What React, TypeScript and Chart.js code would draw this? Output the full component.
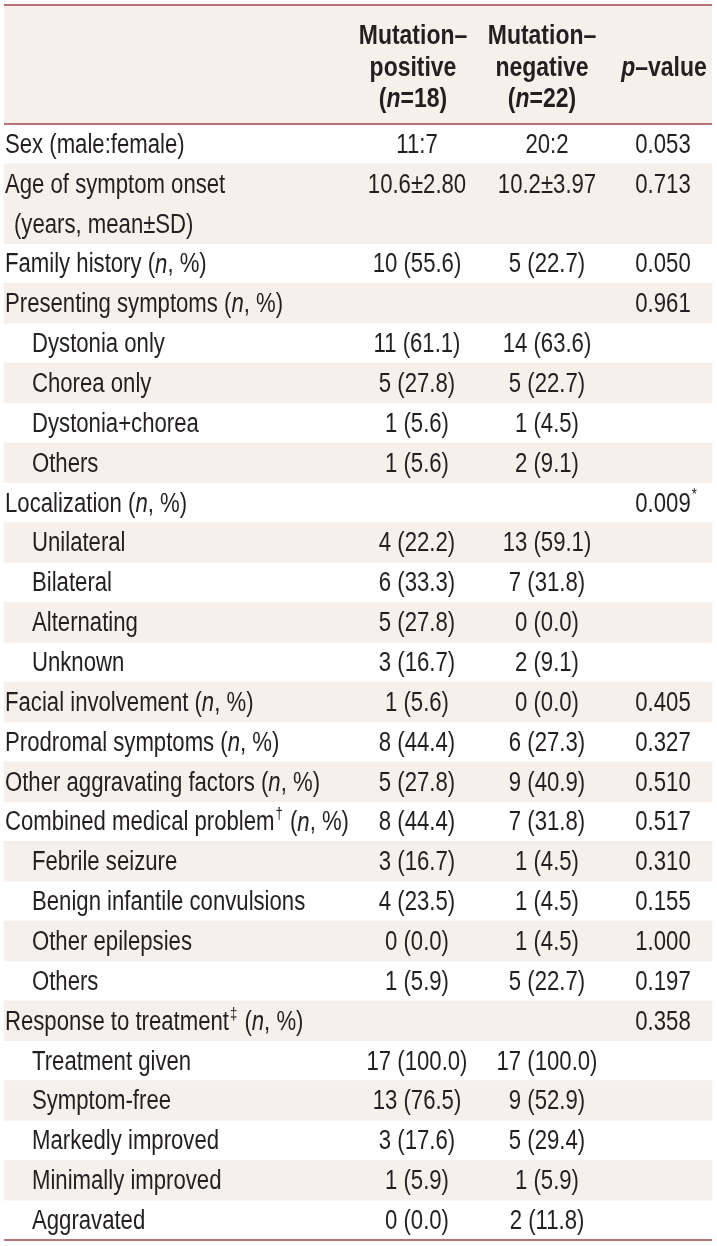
import React, { useEffect, useRef } from "react";
import { Chart, registerables } from "chart.js";

Chart.register(...registerables);

// ---------- data ----------
const headerPositive = ["Mutation–", "positive", "(_n_=18)"];
const headerNegative = ["Mutation–", "negative", "(_n_=22)"];
const headerPValue = ["", "_p_–value", ""];

const rowLabels = [
  "Sex (male:female)",
  "Age of symptom onset|(years, mean±SD)",
  "Family history (_n_, %)",
  "Presenting symptoms (_n_, %)",
  "Dystonia only",
  "Chorea only",
  "Dystonia+chorea",
  "Others",
  "Localization (_n_, %)",
  "Unilateral",
  "Bilateral",
  "Alternating",
  "Unknown",
  "Facial involvement (_n_, %)",
  "Prodromal symptoms (_n_, %)",
  "Other aggravating factors (_n_, %)",
  "Combined medical problem^†^ (_n_, %)",
  "Febrile seizure",
  "Benign infantile convulsions",
  "Other epilepsies",
  "Others",
  "Response to treatment^‡^ (_n_, %)",
  "Treatment given",
  "Symptom-free",
  "Markedly improved",
  "Minimally improved",
  "Aggravated",
];

const rowIndent = [0, 0, 0, 0, 1, 1, 1, 1, 0, 1, 1, 1, 1, 0, 0, 0, 0, 1, 1, 1, 1, 0, 1, 1, 1, 1, 1];

const positiveValues = [
  "11:7", "10.6±2.80", "10 (55.6)", "", "11 (61.1)", "5 (27.8)", "1 (5.6)", "1 (5.6)",
  "", "4 (22.2)", "6 (33.3)", "5 (27.8)", "3 (16.7)", "1 (5.6)", "8 (44.4)", "5 (27.8)",
  "8 (44.4)", "3 (16.7)", "4 (23.5)", "0 (0.0)", "1 (5.9)", "", "17 (100.0)", "13 (76.5)",
  "3 (17.6)", "1 (5.9)", "0 (0.0)",
];

const negativeValues = [
  "20:2", "10.2±3.97", "5 (22.7)", "", "14 (63.6)", "5 (22.7)", "1 (4.5)", "2 (9.1)",
  "", "13 (59.1)", "7 (31.8)", "0 (0.0)", "2 (9.1)", "0 (0.0)", "6 (27.3)", "9 (40.9)",
  "7 (31.8)", "1 (4.5)", "1 (4.5)", "1 (4.5)", "5 (22.7)", "", "17 (100.0)", "9 (52.9)",
  "5 (29.4)", "1 (5.9)", "2 (11.8)",
];

const pValues = [
  "0.053", "0.713", "0.050", "0.961", "", "", "", "", "0.009^*^", "", "", "", "",
  "0.405", "0.327", "0.510", "0.517", "0.310", "0.155", "1.000", "0.197", "0.358",
  "", "", "", "", "",
];

// ---------- styles / layout ----------
const TEXT_COLOR = "#231f20";
const RULE_COLOR = "#a3444c";
const STRIPE_COLOR = "#f6efea";
const FONT_SIZE = 27;
const HEAD_FONT_SIZE = 28;
const X_LEFT = 4;
const X_RIGHT = 712;
const COL_LABEL = 5;
const COL_INDENT = 32;
const COL_CONT = 14;
const COL_POS = 417;
const COL_NEG = 547;
const COL_P = 663;
const HEAD_POS = 413;
const HEAD_NEG = 542;
const HEAD_P = 664;
const TEXT_DY = 1.5;

// line structure built from data
const rowLines = rowLabels.map((l) => l.split("|"));
const lineLabels: string[] = [];
const lineRow: number[] = [];
rowLines.forEach((ls, r) => ls.forEach((t) => { lineLabels.push(t); lineRow.push(r); }));
const rowStartLine: number[] = [];
{
  let acc = 0;
  rowLines.forEach((ls) => { rowStartLine.push(acc); acc += ls.length; });
}

function fontAvailable(name: string): boolean {
  const c = document.createElement("canvas").getContext("2d")!;
  const s = "abcdefghijklmnopqrstuvwxyz0123456789";
  c.font = "40px monospace";
  const a = c.measureText(s).width;
  c.font = `40px "${name}", monospace`;
  const b = c.measureText(s).width;
  return Math.abs(a - b) > 0.5;
}

type Seg = { t: string; k: "n" | "i" | "s" };
function parseRich(text: string): Seg[] {
  const parts = text.split(/(_[^_]+_|\^[^^]+\^)/).filter((p) => p.length > 0);
  return parts.map((p) => {
    if (p.startsWith("_") && p.endsWith("_") && p.length > 1) return { t: p.slice(1, -1), k: "i" };
    if (p.startsWith("^") && p.endsWith("^") && p.length > 1) return { t: p.slice(1, -1), k: "s" };
    return { t: p, k: "n" };
  });
}

export default function App() {
  const canvasRef = useRef<HTMLCanvasElement | null>(null);

  useEffect(() => {
    document.body.style.margin = "0";
    const canvas = canvasRef.current;
    if (!canvas) return;

    const narrow = fontAvailable("Liberation Sans Narrow");
    const family = narrow ? '"Liberation Sans Narrow"' : '"Liberation Sans"';
    const hScale = narrow ? 1 : 0.82;

    const fontStr = (k: string, bold: boolean, size: number) =>
      `${k === "i" ? "italic " : ""}${bold ? "bold " : ""}${size}px ${family}`;

    const drawRich = (
      ctx: CanvasRenderingContext2D,
      text: string,
      x: number,
      y: number,
      align: "left" | "center",
      bold: boolean,
      base: number
    ) => {
      if (!text) return;
      const segs = parseRich(text);
      const sizes = segs.map((s) => (s.k === "s" ? Math.round(base * 0.6) : base));
      const widths = segs.map((s, i) => {
        ctx.font = fontStr(s.k, bold, sizes[i]);
        return ctx.measureText(s.t).width * hScale;
      });
      let cw = 0;
      segs.forEach((s, i) => { if (s.k !== "s") cw += widths[i]; });
      let cx = align === "center" ? x - cw / 2 : x;
      segs.forEach((s, i) => {
        ctx.save();
        ctx.font = fontStr(s.k, bold, sizes[i]);
        ctx.fillStyle = TEXT_COLOR;
        ctx.textBaseline = "middle";
        ctx.textAlign = "left";
        const dy = s.k === "s" ? -base * 0.3 : 0;
        ctx.translate(cx + (s.k === "s" ? 1 : 0), y + dy + TEXT_DY);
        ctx.scale(hScale, 1);
        ctx.fillText(s.t, 0, 0);
        ctx.restore();
        cx += widths[i] + (s.k === "s" ? 2 : 0);
      });
    };

    const tablePlugin = {
      id: "tableText",
      beforeDatasetsDraw(chart: any) {
        const { ctx, scales } = chart;
        const xs = scales.x;
        const ys = scales.y;
        const x0 = xs.getPixelForValue(X_LEFT);
        const x1 = xs.getPixelForValue(X_RIGHT);
        const topRule = ys.getPixelForValue(-3.485);
        const headRule = ys.getPixelForValue(-0.5);
        ctx.save();
        ctx.fillStyle = STRIPE_COLOR;
        ctx.fillRect(x0, topRule, x1 - x0, headRule - topRule);
        ctx.restore();
      },
      afterDatasetsDraw(chart: any) {
        const { ctx, scales } = chart;
        const xs = scales.x;
        const ys = scales.y;
        const px = (v: number) => xs.getPixelForValue(v);

        // rules
        const x0 = px(X_LEFT);
        const x1 = px(X_RIGHT);
        const rules = [-3.485, -0.5, lineLabels.length - 0.5];
        ctx.save();
        ctx.strokeStyle = RULE_COLOR;
        ctx.lineWidth = 1.5;
        rules.forEach((v) => {
          const y = ys.getPixelForValue(v);
          ctx.beginPath();
          ctx.moveTo(x0, y);
          ctx.lineTo(x1, y);
          ctx.stroke();
        });
        ctx.restore();

        // header
        const headerY = [-2.733, -1.93, -1.152];
        headerY.forEach((v, i) => {
          const y = ys.getPixelForValue(v);
          drawRich(ctx, headerPositive[i], px(HEAD_POS), y, "center", true, HEAD_FONT_SIZE);
          drawRich(ctx, headerNegative[i], px(HEAD_NEG), y, "center", true, HEAD_FONT_SIZE);
          drawRich(ctx, headerPValue[i], px(HEAD_P), y, "center", true, HEAD_FONT_SIZE);
        });

        // body
        rowLines.forEach((ls, r) => {
          const start = rowStartLine[r];
          ls.forEach((t, j) => {
            const y = ys.getPixelForValue(start + j);
            const x = j > 0 ? COL_CONT : rowIndent[r] ? COL_INDENT : COL_LABEL;
            drawRich(ctx, t, px(x), y, "left", false, FONT_SIZE);
          });
          const y = ys.getPixelForValue(start);
          drawRich(ctx, positiveValues[r], px(COL_POS), y, "center", false, FONT_SIZE);
          drawRich(ctx, negativeValues[r], px(COL_NEG), y, "center", false, FONT_SIZE);
          drawRich(ctx, pValues[r], px(COL_P), y, "center", false, FONT_SIZE);
        });
      },
    };

    const stripeData = lineRow.map((r) => (r % 2 === 1 ? [X_LEFT, X_RIGHT] : null));

    const chart = new Chart(canvas, {
      type: "bar",
      data: {
        labels: lineLabels,
        datasets: [
          {
            data: stripeData as any,
            backgroundColor: STRIPE_COLOR,
            borderWidth: 0,
            barPercentage: 1,
            categoryPercentage: 1,
          },
        ],
      },
      options: {
        animation: false,
        responsive: true,
        maintainAspectRatio: false,
        indexAxis: "y",
        events: [],
        layout: { padding: { top: 124, bottom: 6, left: 0, right: 0 } },
        plugins: { legend: { display: false }, tooltip: { enabled: false } },
        scales: {
          x: { type: "linear", min: 0, max: 717, display: false },
          y: { type: "category", display: false, offset: true },
        },
      },
      plugins: [tablePlugin],
    });

    return () => chart.destroy();
  }, []);

  return (
    <div style={{ position: "relative", width: 717, height: 1246 }}>
      <canvas ref={canvasRef} />
    </div>
  );
}
